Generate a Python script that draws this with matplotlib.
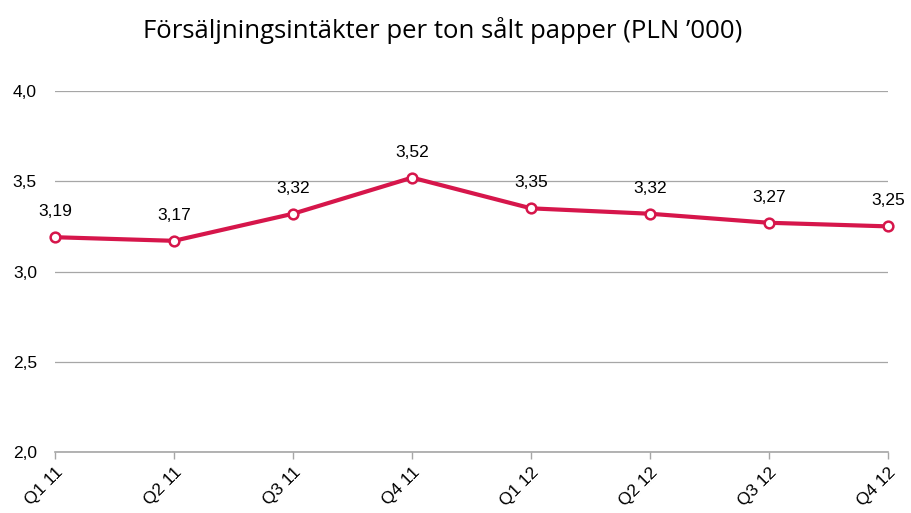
import numpy as np
import matplotlib
matplotlib.use('Agg')
from matplotlib import pyplot as plt

quarters = ['Q1 11', 'Q2 11', 'Q3 11', 'Q4 11', 'Q1 12', 'Q2 12', 'Q3 12', 'Q4 12']
values = [3.19, 3.17, 3.32, 3.52, 3.35, 3.32, 3.27, 3.25]
yticks = [2.0, 2.5, 3.0, 3.5, 4.0]

red = '#d6164b'
grey = '#a6a6a6'

fig = plt.figure(figsize=(9.11, 5.13), dpi=100)
ax = fig.add_axes([0.0604, 0.1189, 0.9144, 0.7037])

x = np.arange(len(values))
ax.plot(x, values, color=red, linewidth=3, marker='o', markersize=7,
        markerfacecolor='white', markeredgecolor=red, markeredgewidth=1.8,
        zorder=3, clip_on=False)

for xi, v in zip(x, values):
    ax.annotate(('%.2f' % v).replace('.', ','), (xi, v), xytext=(0, 13),
                textcoords='offset points', ha='center', va='bottom',
                fontsize=12.5, family='Liberation Sans', color='black')

ax.set_xlim(0, len(values) - 1)
ax.set_ylim(2.0, 4.0)
ax.set_yticks(yticks)
ax.set_yticklabels([('%.1f' % t).replace('.', ',') for t in yticks],
                   family='Liberation Sans', fontsize=12.5)
ax.set_xticks(x)
ax.set_xticklabels(quarters, rotation=45, ha='right', rotation_mode='anchor',
                   family='Liberation Sans', fontsize=12.5)

ax.yaxis.grid(True, color=grey, linewidth=0.9)
ax.set_axisbelow(True)
for s in ['left', 'right', 'top']:
    ax.spines[s].set_visible(False)
ax.spines['bottom'].set_color(grey)
ax.spines['bottom'].set_linewidth(1.2)
ax.tick_params(axis='y', length=0, pad=13)
ax.tick_params(axis='x', length=5, color=grey, width=1, pad=4)

fig.text(0.486, 0.94, 'Försäljningsintäkter per ton sålt papper (PLN \u2019000)',
         ha='center', va='center', fontsize=18.5, family='Open Sans')

plt.savefig('out.png', dpi=100)
